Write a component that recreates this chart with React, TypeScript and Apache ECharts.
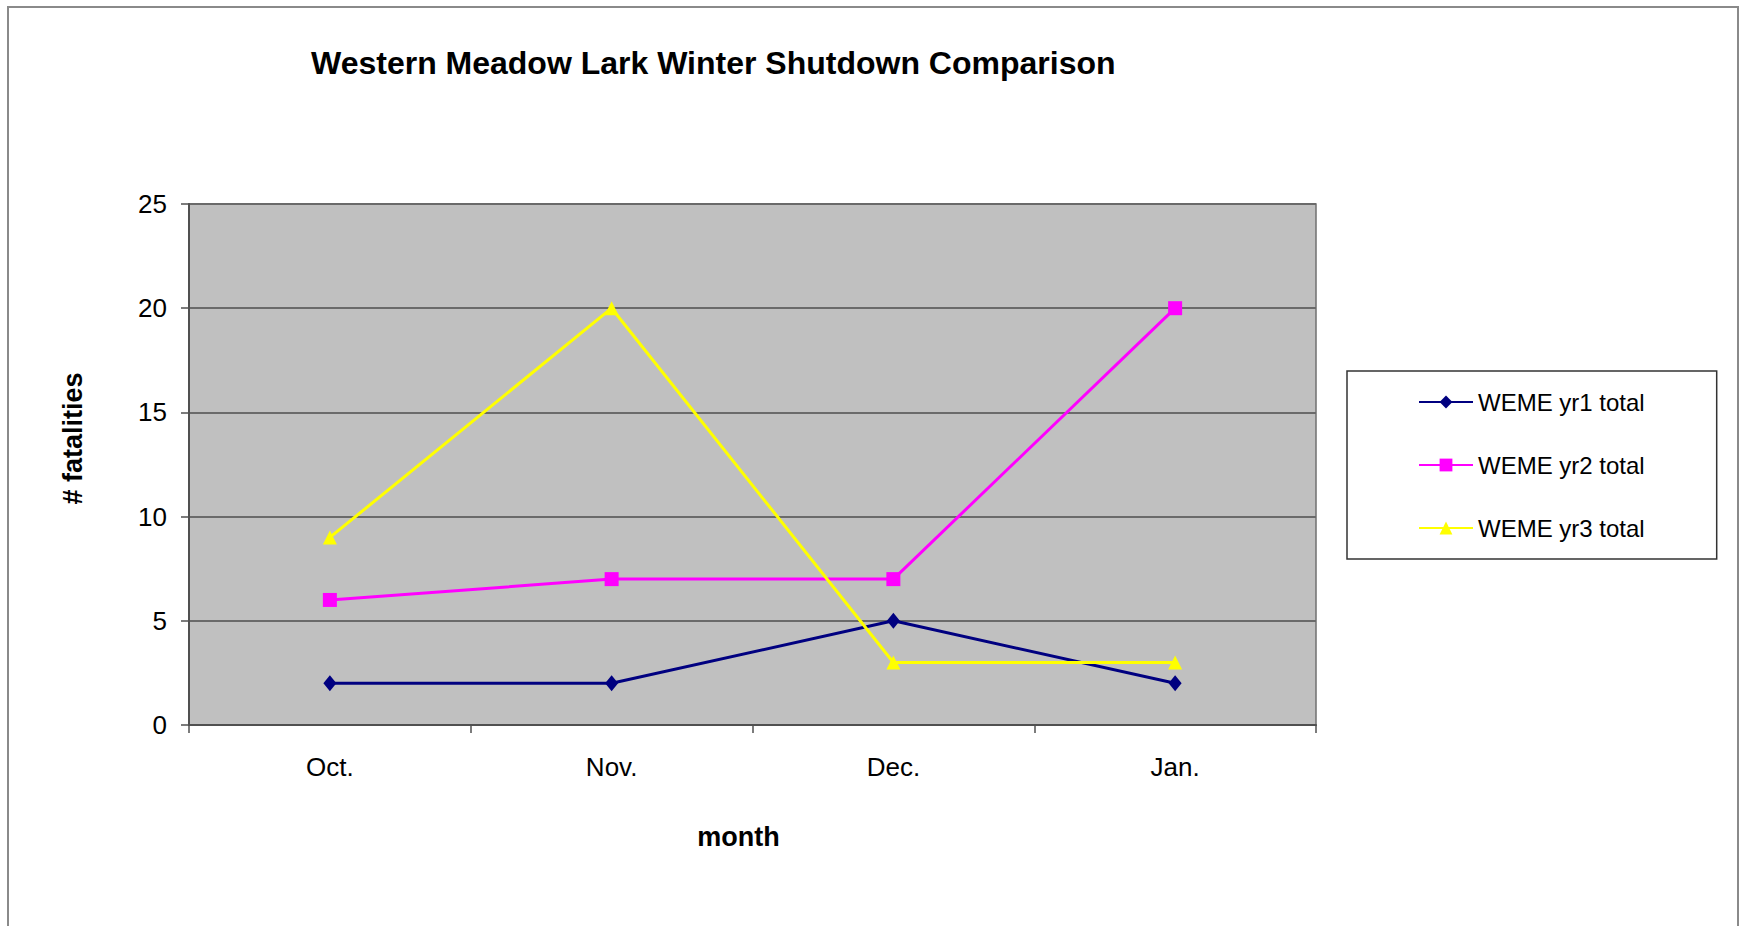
import React, { useEffect, useRef } from "react";
import * as echarts from "echarts";

const months = ["Oct.", "Nov.", "Dec.", "Jan."];
const yr1Total = [2, 2, 5, 2];
const yr2Total = [6, 7, 7, 20];
const yr3Total = [9, 20, 3, 3];
const seriesNames = ["WEME yr1 total", "WEME yr2 total", "WEME yr3 total"];
const titleText = "Western Meadow Lark Winter Shutdown Comparison";
const xName = "month";
const yName = "# fatalities";

const FONT = "'Liberation Sans', Arial, sans-serif";

export default function App() {
  const ref = useRef<HTMLDivElement>(null);
  useEffect(() => {
    if (!ref.current) return;
    const chart = echarts.init(ref.current, undefined, { renderer: "svg" });
    chart.setOption({
      animation: false,
      backgroundColor: "#ffffff",
      textStyle: { fontFamily: FONT, color: "#000" },
      title: {
        text: titleText,
        left: 311,
        top: 47,
        padding: 0,
        textStyle: { fontFamily: FONT, fontSize: 32, fontWeight: "bold", color: "#000" },
      },
      graphic: [
        {
          type: "rect",
          silent: true,
          z: -10,
          shape: { x: 8, y: 7, width: 1730, height: 960 },
          style: { fill: "none", stroke: "#8a8a8a", lineWidth: 2 },
        },
      ],
      legend: {
        orient: "vertical",
        left: 1347,
        top: 371,
        padding: [19, 72, 19, 71],
        itemGap: 39,
        itemWidth: 54,
        itemHeight: 16,
        backgroundColor: "#ffffff",
        borderColor: "#333",
        borderWidth: 1.5,
        textStyle: { fontFamily: FONT, fontSize: 24, color: "#000", lineHeight: 24 },
        data: seriesNames,
      },
      grid: {
        left: 189,
        top: 204,
        right: 427,
        bottom: 201,
        show: true,
        backgroundColor: "#C0C0C0",
        borderColor: "#707070",
        borderWidth: 1.5,
        containLabel: false,
      },
      xAxis: {
        type: "category",
        data: months,
        boundaryGap: true,
        name: xName,
        nameLocation: "middle",
        nameGap: 98,
        nameTextStyle: { fontFamily: FONT, fontSize: 27, fontWeight: "bold", color: "#000", padding: [0, 28, 0, 0] },
        axisLine: { show: true, lineStyle: { color: "#505050", width: 2 } },
        axisTick: { show: true, inside: false, length: 8, alignWithLabel: false, lineStyle: { color: "#505050", width: 1.5 } },
        axisLabel: { fontFamily: FONT, fontSize: 26, color: "#000", margin: 29 },
        splitLine: { show: false },
      },
      yAxis: {
        type: "value",
        min: 0,
        max: 25,
        interval: 5,
        name: yName,
        nameLocation: "middle",
        nameGap: 103,
        nameRotate: 90,
        nameTextStyle: { fontFamily: FONT, fontSize: 27, fontWeight: "bold", color: "#000", padding: [0, 0, 0, 52] },
        axisLine: { show: true, lineStyle: { color: "#505050", width: 2 } },
        axisTick: { show: true, inside: false, length: 8, lineStyle: { color: "#505050", width: 1.5 } },
        axisLabel: { fontFamily: FONT, fontSize: 26, color: "#000", margin: 22 },
        splitLine: { show: true, lineStyle: { color: "#6a6a6a", width: 2 } },
      },
      series: [
        {
          name: seriesNames[0],
          type: "line",
          data: yr1Total,
          color: "#000080",
          symbol: "diamond",
          symbolSize: [13, 16],
          lineStyle: { width: 3, color: "#000080" },
          itemStyle: { color: "#000080" },
        },
        {
          name: seriesNames[1],
          type: "line",
          data: yr2Total,
          color: "#FF00FF",
          symbol: "rect",
          symbolSize: 14,
          lineStyle: { width: 3, color: "#FF00FF" },
          itemStyle: { color: "#FF00FF" },
        },
        {
          name: seriesNames[2],
          type: "line",
          data: yr3Total,
          color: "#FFFF00",
          symbol: "triangle",
          symbolSize: 14,
          lineStyle: { width: 3, color: "#FFFF00" },
          itemStyle: { color: "#FFFF00" },
        },
      ],
    });
    return () => chart.dispose();
  }, []);
  return <div ref={ref} style={{ position: "fixed", left: 0, top: 0, width: 1743, height: 926 }} />;
}
